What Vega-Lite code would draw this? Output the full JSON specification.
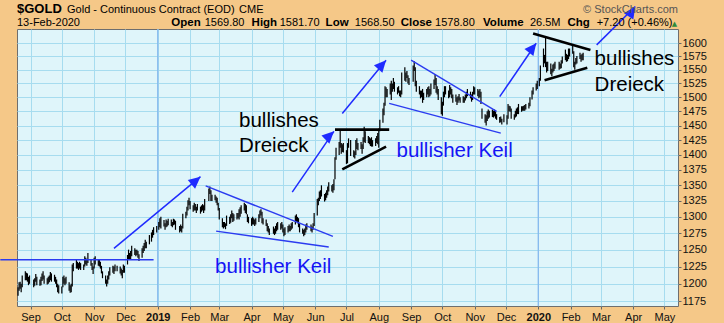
{
"$schema": "https://vega.github.io/schema/vega-lite/v6.json",
"width": 661, "height": 277,
"autosize": {"type": "none"},
"padding": {"left": 17, "top": 29, "right": 46, "bottom": 17},
"background": "#F5C888",
"config": {"view": {"stroke": "#6e6e6e", "strokeWidth": 1, "fill": "#DFF5FA"}, "font": "Liberation Sans"},
"datasets": {
"ohlc": [
{"d":"2018-08-20","h":1195,"l":1183},{"d":"2018-08-21","h":1202,"l":1190},{"d":"2018-08-22","h":1203,"l":1193},{"d":"2018-08-23","h":1200,"l":1188},{"d":"2018-08-24","h":1212,"l":1195},
{"d":"2018-08-27","h":1218,"l":1205},{"d":"2018-08-28","h":1216,"l":1205},{"d":"2018-08-29","h":1215,"l":1203},{"d":"2018-08-30","h":1210,"l":1198},{"d":"2018-08-31","h":1212,"l":1200},
{"d":"2018-09-04","h":1206,"l":1195},{"d":"2018-09-05","h":1208,"l":1197},{"d":"2018-09-06","h":1214,"l":1203},{"d":"2018-09-07","h":1210,"l":1198},
{"d":"2018-09-10","h":1206,"l":1197},{"d":"2018-09-11","h":1210,"l":1198},{"d":"2018-09-12","h":1215,"l":1204},{"d":"2018-09-13","h":1218,"l":1206},{"d":"2018-09-14","h":1212,"l":1200},
{"d":"2018-09-17","h":1208,"l":1199},{"d":"2018-09-18","h":1210,"l":1200},{"d":"2018-09-19","h":1212,"l":1202},{"d":"2018-09-20","h":1217,"l":1205},{"d":"2018-09-21","h":1215,"l":1203},
{"d":"2018-09-24","h":1213,"l":1203},{"d":"2018-09-25","h":1210,"l":1200},{"d":"2018-09-26","h":1206,"l":1195},{"d":"2018-09-27","h":1200,"l":1188},{"d":"2018-09-28","h":1198,"l":1186},
{"d":"2018-10-01","h":1196,"l":1186},{"d":"2018-10-02","h":1210,"l":1195},{"d":"2018-10-03","h":1212,"l":1200},{"d":"2018-10-04","h":1208,"l":1198},{"d":"2018-10-05","h":1210,"l":1200},
{"d":"2018-10-08","h":1202,"l":1190},{"d":"2018-10-09","h":1198,"l":1187},{"d":"2018-10-10","h":1200,"l":1188},{"d":"2018-10-11","h":1228,"l":1196},{"d":"2018-10-12","h":1230,"l":1218},
{"d":"2018-10-15","h":1235,"l":1222},{"d":"2018-10-16","h":1232,"l":1222},{"d":"2018-10-17","h":1230,"l":1220},{"d":"2018-10-18","h":1232,"l":1222},{"d":"2018-10-19","h":1230,"l":1220},
{"d":"2018-10-22","h":1228,"l":1220},{"d":"2018-10-23","h":1240,"l":1225},{"d":"2018-10-24","h":1238,"l":1228},{"d":"2018-10-25","h":1236,"l":1226},{"d":"2018-10-26","h":1245,"l":1230},
{"d":"2018-10-29","h":1236,"l":1226},{"d":"2018-10-30","h":1230,"l":1220},{"d":"2018-10-31","h":1225,"l":1214},{"d":"2018-11-01","h":1238,"l":1222},{"d":"2018-11-02","h":1240,"l":1228},
{"d":"2018-11-05","h":1236,"l":1226},{"d":"2018-11-06","h":1235,"l":1225},{"d":"2018-11-07","h":1232,"l":1222},{"d":"2018-11-08","h":1226,"l":1215},{"d":"2018-11-09","h":1218,"l":1208},
{"d":"2018-11-12","h":1212,"l":1200},{"d":"2018-11-13","h":1206,"l":1196},{"d":"2018-11-14","h":1212,"l":1200},{"d":"2018-11-15","h":1218,"l":1206},{"d":"2018-11-16","h":1224,"l":1212},
{"d":"2018-11-19","h":1226,"l":1216},{"d":"2018-11-20","h":1225,"l":1214},{"d":"2018-11-21","h":1228,"l":1218},{"d":"2018-11-23","h":1226,"l":1218},
{"d":"2018-11-26","h":1225,"l":1215},{"d":"2018-11-27","h":1222,"l":1212},{"d":"2018-11-28","h":1220,"l":1208},{"d":"2018-11-29","h":1228,"l":1216},{"d":"2018-11-30","h":1226,"l":1216},
{"d":"2018-12-03","h":1242,"l":1228},{"d":"2018-12-04","h":1250,"l":1236},{"d":"2018-12-05","h":1245,"l":1236},{"d":"2018-12-06","h":1248,"l":1236},{"d":"2018-12-07","h":1256,"l":1240},
{"d":"2018-12-10","h":1252,"l":1242},{"d":"2018-12-11","h":1250,"l":1240},{"d":"2018-12-12","h":1250,"l":1242},{"d":"2018-12-13","h":1248,"l":1238},{"d":"2018-12-14","h":1243,"l":1233},
{"d":"2018-12-17","h":1252,"l":1238},{"d":"2018-12-18","h":1256,"l":1245},{"d":"2018-12-19","h":1260,"l":1248},{"d":"2018-12-20","h":1265,"l":1252},{"d":"2018-12-21","h":1262,"l":1252},
{"d":"2018-12-24","h":1272,"l":1258},{"d":"2018-12-26","h":1276,"l":1262},{"d":"2018-12-27","h":1280,"l":1268},{"d":"2018-12-28","h":1284,"l":1272},{"d":"2018-12-31","h":1286,"l":1276},
{"d":"2019-01-02","h":1292,"l":1280},{"d":"2019-01-03","h":1298,"l":1284},{"d":"2019-01-04","h":1300,"l":1282},{"d":"2019-01-07","h":1295,"l":1285},{"d":"2019-01-08","h":1290,"l":1280},
{"d":"2019-01-09","h":1296,"l":1284},{"d":"2019-01-10","h":1294,"l":1285},{"d":"2019-01-11","h":1297,"l":1287},{"d":"2019-01-14","h":1296,"l":1286},{"d":"2019-01-15","h":1292,"l":1284},
{"d":"2019-01-16","h":1297,"l":1287},{"d":"2019-01-17","h":1296,"l":1288},{"d":"2019-01-18","h":1294,"l":1280},{"d":"2019-01-22","h":1286,"l":1276},{"d":"2019-01-23","h":1288,"l":1278},
{"d":"2019-01-24","h":1286,"l":1276},{"d":"2019-01-25","h":1305,"l":1282},{"d":"2019-01-28","h":1308,"l":1298},{"d":"2019-01-29","h":1316,"l":1302},{"d":"2019-01-30","h":1326,"l":1310},
{"d":"2019-01-31","h":1330,"l":1318},{"d":"2019-02-01","h":1325,"l":1312},{"d":"2019-02-04","h":1318,"l":1308},{"d":"2019-02-05","h":1322,"l":1310},{"d":"2019-02-06","h":1320,"l":1310},
{"d":"2019-02-07","h":1316,"l":1306},{"d":"2019-02-08","h":1320,"l":1310},{"d":"2019-02-11","h":1316,"l":1305},{"d":"2019-02-12","h":1318,"l":1308},{"d":"2019-02-13","h":1320,"l":1310},
{"d":"2019-02-14","h":1318,"l":1306},{"d":"2019-02-15","h":1328,"l":1310},{"d":"2019-02-19","h":1345,"l":1325},{"d":"2019-02-20","h":1348,"l":1336},{"d":"2019-02-21","h":1342,"l":1325},
{"d":"2019-02-22","h":1335,"l":1325},{"d":"2019-02-25","h":1335,"l":1326},{"d":"2019-02-26","h":1332,"l":1322},{"d":"2019-02-27","h":1330,"l":1318},{"d":"2019-02-28","h":1322,"l":1310},
{"d":"2019-03-01","h":1314,"l":1296},{"d":"2019-03-04","h":1298,"l":1284},{"d":"2019-03-05","h":1292,"l":1282},{"d":"2019-03-06","h":1292,"l":1284},{"d":"2019-03-07","h":1290,"l":1281},
{"d":"2019-03-08","h":1302,"l":1286},{"d":"2019-03-11","h":1300,"l":1289},{"d":"2019-03-12","h":1304,"l":1291},{"d":"2019-03-13","h":1310,"l":1298},{"d":"2019-03-14","h":1306,"l":1292},
{"d":"2019-03-15","h":1304,"l":1294},{"d":"2019-03-18","h":1306,"l":1296},{"d":"2019-03-19","h":1306,"l":1298},{"d":"2019-03-20","h":1312,"l":1296},{"d":"2019-03-21","h":1315,"l":1300},
{"d":"2019-03-22","h":1318,"l":1305},{"d":"2019-03-25","h":1322,"l":1310},{"d":"2019-03-26","h":1320,"l":1306},{"d":"2019-03-27","h":1318,"l":1304},{"d":"2019-03-28","h":1304,"l":1292},
{"d":"2019-03-29","h":1300,"l":1290},{"d":"2019-04-01","h":1298,"l":1286},{"d":"2019-04-02","h":1300,"l":1288},{"d":"2019-04-03","h":1298,"l":1288},{"d":"2019-04-04","h":1296,"l":1286},
{"d":"2019-04-05","h":1298,"l":1288},{"d":"2019-04-08","h":1304,"l":1292},{"d":"2019-04-09","h":1310,"l":1298},{"d":"2019-04-10","h":1312,"l":1302},{"d":"2019-04-11","h":1308,"l":1290},
{"d":"2019-04-12","h":1298,"l":1288},{"d":"2019-04-15","h":1296,"l":1286},{"d":"2019-04-16","h":1290,"l":1278},{"d":"2019-04-17","h":1286,"l":1276},{"d":"2019-04-18","h":1282,"l":1272},
{"d":"2019-04-22","h":1285,"l":1274},{"d":"2019-04-23","h":1282,"l":1272},{"d":"2019-04-24","h":1286,"l":1274},{"d":"2019-04-25","h":1290,"l":1278},{"d":"2019-04-26","h":1292,"l":1280},
{"d":"2019-04-29","h":1290,"l":1280},{"d":"2019-04-30","h":1292,"l":1282},{"d":"2019-05-01","h":1288,"l":1276},{"d":"2019-05-02","h":1282,"l":1270},{"d":"2019-05-03","h":1284,"l":1272},
{"d":"2019-05-06","h":1286,"l":1276},{"d":"2019-05-07","h":1288,"l":1278},{"d":"2019-05-08","h":1286,"l":1278},{"d":"2019-05-09","h":1290,"l":1280},{"d":"2019-05-10","h":1292,"l":1282},
{"d":"2019-05-13","h":1302,"l":1288},{"d":"2019-05-14","h":1304,"l":1292},{"d":"2019-05-15","h":1300,"l":1290},{"d":"2019-05-16","h":1298,"l":1284},{"d":"2019-05-17","h":1290,"l":1276},
{"d":"2019-05-20","h":1282,"l":1274},{"d":"2019-05-21","h":1280,"l":1270},{"d":"2019-05-22","h":1282,"l":1272},{"d":"2019-05-23","h":1288,"l":1276},{"d":"2019-05-24","h":1290,"l":1280},
{"d":"2019-05-28","h":1288,"l":1278},{"d":"2019-05-29","h":1285,"l":1276},{"d":"2019-05-30","h":1290,"l":1280},{"d":"2019-05-31","h":1306,"l":1286},
{"d":"2019-06-03","h":1328,"l":1302},{"d":"2019-06-04","h":1330,"l":1318},{"d":"2019-06-05","h":1340,"l":1325},{"d":"2019-06-06","h":1342,"l":1328},{"d":"2019-06-07","h":1350,"l":1332},
{"d":"2019-06-10","h":1336,"l":1324},{"d":"2019-06-11","h":1338,"l":1326},{"d":"2019-06-12","h":1342,"l":1330},{"d":"2019-06-13","h":1348,"l":1334},{"d":"2019-06-14","h":1355,"l":1340},
{"d":"2019-06-17","h":1350,"l":1340},{"d":"2019-06-18","h":1352,"l":1338},{"d":"2019-06-19","h":1360,"l":1342},{"d":"2019-06-20","h":1396,"l":1360},{"d":"2019-06-21","h":1412,"l":1392},
{"d":"2019-06-24","h":1422,"l":1400},{"d":"2019-06-25","h":1442,"l":1412},{"d":"2019-06-26","h":1420,"l":1402},{"d":"2019-06-27","h":1418,"l":1405},{"d":"2019-06-28","h":1420,"l":1404},
{"d":"2019-07-01","h":1408,"l":1385},{"d":"2019-07-02","h":1420,"l":1386},{"d":"2019-07-03","h":1428,"l":1412},{"d":"2019-07-05","h":1425,"l":1398},
{"d":"2019-07-08","h":1408,"l":1396},{"d":"2019-07-09","h":1406,"l":1394},{"d":"2019-07-10","h":1425,"l":1400},{"d":"2019-07-11","h":1428,"l":1410},{"d":"2019-07-12","h":1420,"l":1408},
{"d":"2019-07-15","h":1422,"l":1410},{"d":"2019-07-16","h":1418,"l":1402},{"d":"2019-07-17","h":1430,"l":1410},{"d":"2019-07-18","h":1448,"l":1422},{"d":"2019-07-19","h":1440,"l":1420},
{"d":"2019-07-22","h":1432,"l":1420},{"d":"2019-07-23","h":1430,"l":1418},{"d":"2019-07-24","h":1428,"l":1415},{"d":"2019-07-25","h":1430,"l":1414},{"d":"2019-07-26","h":1425,"l":1414},
{"d":"2019-07-29","h":1428,"l":1415},{"d":"2019-07-30","h":1432,"l":1420},{"d":"2019-07-31","h":1437,"l":1418},{"d":"2019-08-01","h":1445,"l":1412},{"d":"2019-08-02","h":1460,"l":1440},
{"d":"2019-08-05","h":1480,"l":1455},{"d":"2019-08-06","h":1490,"l":1468},{"d":"2019-08-07","h":1520,"l":1485},{"d":"2019-08-08","h":1518,"l":1500},{"d":"2019-08-09","h":1515,"l":1500},
{"d":"2019-08-12","h":1525,"l":1505},{"d":"2019-08-13","h":1530,"l":1495},{"d":"2019-08-14","h":1525,"l":1510},{"d":"2019-08-15","h":1535,"l":1515},{"d":"2019-08-16","h":1528,"l":1510},
{"d":"2019-08-19","h":1518,"l":1505},{"d":"2019-08-20","h":1520,"l":1508},{"d":"2019-08-21","h":1512,"l":1502},{"d":"2019-08-22","h":1512,"l":1500},{"d":"2019-08-23","h":1545,"l":1505},
{"d":"2019-08-26","h":1555,"l":1530},{"d":"2019-08-27","h":1545,"l":1528},{"d":"2019-08-28","h":1548,"l":1535},{"d":"2019-08-29","h":1540,"l":1525},{"d":"2019-08-30","h":1535,"l":1522},
{"d":"2019-09-03","h":1558,"l":1528},{"d":"2019-09-04","h":1566,"l":1548},{"d":"2019-09-05","h":1555,"l":1520},{"d":"2019-09-06","h":1530,"l":1510},
{"d":"2019-09-09","h":1520,"l":1505},{"d":"2019-09-10","h":1512,"l":1498},{"d":"2019-09-11","h":1512,"l":1500},{"d":"2019-09-12","h":1515,"l":1490},{"d":"2019-09-13","h":1508,"l":1495},
{"d":"2019-09-16","h":1515,"l":1500},{"d":"2019-09-17","h":1518,"l":1505},{"d":"2019-09-18","h":1520,"l":1500},{"d":"2019-09-19","h":1515,"l":1502},{"d":"2019-09-20","h":1525,"l":1505},
{"d":"2019-09-23","h":1532,"l":1515},{"d":"2019-09-24","h":1542,"l":1522},{"d":"2019-09-25","h":1535,"l":1508},{"d":"2019-09-26","h":1520,"l":1505},{"d":"2019-09-27","h":1515,"l":1495},
{"d":"2019-09-30","h":1500,"l":1470},{"d":"2019-10-01","h":1492,"l":1467},{"d":"2019-10-02","h":1510,"l":1485},{"d":"2019-10-03","h":1520,"l":1500},{"d":"2019-10-04","h":1520,"l":1505},
{"d":"2019-10-07","h":1512,"l":1498},{"d":"2019-10-08","h":1522,"l":1500},{"d":"2019-10-09","h":1518,"l":1505},{"d":"2019-10-10","h":1515,"l":1498},{"d":"2019-10-11","h":1505,"l":1490},
{"d":"2019-10-14","h":1505,"l":1492},{"d":"2019-10-15","h":1500,"l":1486},{"d":"2019-10-16","h":1502,"l":1490},{"d":"2019-10-17","h":1506,"l":1494},{"d":"2019-10-18","h":1500,"l":1490},
{"d":"2019-10-21","h":1502,"l":1490},{"d":"2019-10-22","h":1500,"l":1490},{"d":"2019-10-23","h":1505,"l":1494},{"d":"2019-10-24","h":1510,"l":1498},{"d":"2019-10-25","h":1515,"l":1502},
{"d":"2019-10-28","h":1510,"l":1498},{"d":"2019-10-29","h":1505,"l":1492},{"d":"2019-10-30","h":1510,"l":1495},{"d":"2019-10-31","h":1520,"l":1505},
{"d":"2019-11-01","h":1518,"l":1505},{"d":"2019-11-04","h":1515,"l":1502},{"d":"2019-11-05","h":1512,"l":1498},{"d":"2019-11-06","h":1515,"l":1500},{"d":"2019-11-07","h":1510,"l":1488},
{"d":"2019-11-08","h":1480,"l":1462},{"d":"2019-11-11","h":1470,"l":1455},{"d":"2019-11-12","h":1468,"l":1450},{"d":"2019-11-13","h":1475,"l":1458},{"d":"2019-11-14","h":1478,"l":1462},
{"d":"2019-11-15","h":1476,"l":1464},{"d":"2019-11-18","h":1478,"l":1465},{"d":"2019-11-19","h":1476,"l":1464},{"d":"2019-11-20","h":1478,"l":1466},{"d":"2019-11-21","h":1475,"l":1462},
{"d":"2019-11-22","h":1470,"l":1460},{"d":"2019-11-25","h":1465,"l":1455},{"d":"2019-11-26","h":1466,"l":1456},{"d":"2019-11-27","h":1462,"l":1452},{"d":"2019-11-29","h":1470,"l":1456},
{"d":"2019-12-02","h":1468,"l":1452},{"d":"2019-12-03","h":1488,"l":1462},{"d":"2019-12-04","h":1485,"l":1475},{"d":"2019-12-05","h":1484,"l":1474},{"d":"2019-12-06","h":1480,"l":1462},
{"d":"2019-12-09","h":1470,"l":1460},{"d":"2019-12-10","h":1476,"l":1464},{"d":"2019-12-11","h":1480,"l":1466},{"d":"2019-12-12","h":1482,"l":1470},{"d":"2019-12-13","h":1488,"l":1470},
{"d":"2019-12-16","h":1484,"l":1474},{"d":"2019-12-17","h":1484,"l":1476},{"d":"2019-12-18","h":1485,"l":1476},{"d":"2019-12-19","h":1486,"l":1476},{"d":"2019-12-20","h":1488,"l":1478},
{"d":"2019-12-23","h":1490,"l":1480},{"d":"2019-12-24","h":1500,"l":1484},{"d":"2019-12-26","h":1512,"l":1496},{"d":"2019-12-27","h":1518,"l":1505},{"d":"2019-12-30","h":1525,"l":1512},
{"d":"2019-12-31","h":1530,"l":1515},{"d":"2020-01-02","h":1535,"l":1520},{"d":"2020-01-03","h":1558,"l":1530},{"d":"2020-01-06","h":1590,"l":1555},{"d":"2020-01-07","h":1578,"l":1562},
{"d":"2020-01-08","h":1612,"l":1555},{"d":"2020-01-09","h":1565,"l":1545},{"d":"2020-01-10","h":1565,"l":1548},{"d":"2020-01-13","h":1562,"l":1542},{"d":"2020-01-14","h":1552,"l":1538},
{"d":"2020-01-15","h":1560,"l":1545},{"d":"2020-01-16","h":1562,"l":1548},{"d":"2020-01-17","h":1565,"l":1552},{"d":"2020-01-21","h":1565,"l":1550},{"d":"2020-01-22","h":1562,"l":1552},
{"d":"2020-01-23","h":1568,"l":1553},{"d":"2020-01-24","h":1575,"l":1562},{"d":"2020-01-27","h":1588,"l":1568},{"d":"2020-01-28","h":1580,"l":1565},{"d":"2020-01-29","h":1578,"l":1566},
{"d":"2020-01-30","h":1590,"l":1570},{"d":"2020-01-31","h":1590,"l":1575},{"d":"2020-02-03","h":1598,"l":1580},{"d":"2020-02-04","h":1585,"l":1555},{"d":"2020-02-05","h":1565,"l":1550},
{"d":"2020-02-06","h":1572,"l":1560},{"d":"2020-02-07","h":1576,"l":1562},{"d":"2020-02-10","h":1582,"l":1570},{"d":"2020-02-11","h":1578,"l":1565},{"d":"2020-02-12","h":1580,"l":1568},
{"d":"2020-02-13","h":1582,"l":1568}
],
"years": [{"d":"2019-01-01"},{"d":"2020-01-01"}],
"lines": [
{"g":"blue","d1":"2018-08-03","p1":1235,"d2":"2018-12-28","p2":1235},
{"g":"blue","d1":"2019-02-16","p1":1349,"d2":"2019-06-18","p2":1270},
{"g":"blue","d1":"2019-02-26","p1":1278,"d2":"2019-06-14","p2":1254},
{"g":"blue","d1":"2019-09-01","p1":1568,"d2":"2019-11-22","p2":1475},
{"g":"blue","d1":"2019-08-11","p1":1489,"d2":"2019-11-26","p2":1437},
{"g":"black","d1":"2019-06-20","p1":1443,"d2":"2019-08-11","p2":1443},
{"g":"black","d1":"2019-06-27","p1":1376,"d2":"2019-08-08","p2":1414},
{"g":"black","d1":"2019-12-27","p1":1619,"d2":"2020-02-20","p2":1587},
{"g":"black","d1":"2020-01-07","p1":1531,"d2":"2020-02-17","p2":1554}
],
"arrows": [
{"id":"a1","d1":"2018-11-20","p1":1252,"d2":"2019-02-11","p2":1364},
{"id":"a2","d1":"2019-05-10","p1":1339,"d2":"2019-06-19","p2":1440},
{"id":"a3","d1":"2019-06-27","p1":1471,"d2":"2019-08-08","p2":1568},
{"id":"a4","d1":"2019-11-25","p1":1501,"d2":"2019-12-30","p2":1600},
{"id":"a5","d1":"2020-02-26","p1":1597,"d2":"2020-04-03","p2":1672}
],
"notes": [
{"g":"black","t":"bullishes","d":"2019-03-20","p":1447.5},
{"g":"black","t":"Dreieck","d":"2019-03-20","p":1405},
{"g":"blue","t":"bullisher Keil","d":"2019-02-25","p":1216},
{"g":"blue","t":"bullisher Keil","d":"2019-08-18","p":1397},
{"g":"black","t":"bullishes","d":"2020-02-24","p":1559},
{"g":"black","t":"Dreieck","d":"2020-02-24","p":1512}
],
"hdr": [
{"k":"big","t":"$GOLD","d":"2018-08-19","p":1660},
{"k":"n","t":"Gold - Continuous Contract (EOD)","d":"2018-10-06","p":1660},
{"k":"n","t":"CME","d":"2019-03-20","p":1660},
{"k":"r","t":"© StockCharts.com","d":"2020-05-14","p":1660},
{"k":"n","t":"13-Feb-2020","d":"2018-08-19","p":1632.5},
{"k":"b","t":"Open","d":"2019-01-14","p":1632.5},
{"k":"n","t":"1569.80","d":"2019-02-15","p":1632.5},
{"k":"b","t":"High","d":"2019-04-01","p":1632.5},
{"k":"n","t":"1581.70","d":"2019-04-28","p":1632.5},
{"k":"b","t":"Low","d":"2019-06-11","p":1632.5},
{"k":"n","t":"1568.50","d":"2019-07-09","p":1632.5},
{"k":"b","t":"Close","d":"2019-08-22","p":1632.5},
{"k":"n","t":"1578.80","d":"2019-09-24","p":1632.5},
{"k":"b","t":"Volume","d":"2019-11-09","p":1632.5},
{"k":"n","t":"26.5M","d":"2019-12-24","p":1632.5},
{"k":"b","t":"Chg","d":"2020-01-29","p":1632.5},
{"k":"n","t":"+7.20 (+0.46%)","d":"2020-02-26","p":1632.5},
{"k":"g","t":"▲","d":"2020-05-08","p":1632.5}
]
},
"layer": [
{
"data": {"name": "years"},
"mark": {"type": "rule", "color": "#86B9EE", "strokeWidth": 1.3},
"encoding": {
"x": {"field": "d", "type": "temporal", "scale": {"type": "utc", "domain": [{"year": 2018, "month": 8, "date": 19, "utc": true}, {"year": 2020, "month": 5, "date": 14, "utc": true}]},
"axis": {"title": null, "orient": "bottom", "tickCount": {"interval": "month", "step": 1}, "grid": true, "gridColor": "#A6DCEF", "domain": false, "tickSize": 3, "tickColor": "#666", "labelFont": "Liberation Sans", "labelFontSize": 11, "labelColor": "#111", "labelPadding": 2, "labelFlush": false, "labelOverlap": false,
"labelExpr": "utcmonth(datum.value) == 0 ? utcFormat(datum.value, '%Y') : utcFormat(datum.value, '%b')",
"labelFontWeight": {"condition": {"test": "utcmonth(datum.value) == 0", "value": "bold"}, "value": "normal"}}}
}
},
{
"data": {"name": "ohlc"},
"mark": {"type": "rule", "color": "#000000", "strokeWidth": 1.2},
"encoding": {
"x": {"field": "d", "type": "temporal"},
"y": {"field": "l", "type": "quantitative", "scale": {"type": "log", "domain": [1168.5, 1627.6], "nice": false, "zero": false},
"axis": {"title": null, "orient": "right", "values": [1175,1200,1225,1250,1275,1300,1325,1350,1375,1400,1425,1450,1475,1500,1525,1550,1575,1600], "grid": true, "gridColor": "#A6DCEF", "domain": false, "tickSize": 3, "tickColor": "#666", "labelFont": "Liberation Sans", "labelFontSize": 11, "labelColor": "#111", "labelPadding": 1, "format": "d"}},
"y2": {"field": "h"}
}
},
{
"data": {"name": "lines"},
"transform": [{"filter": "datum.g == 'blue'"}],
"mark": {"type": "rule", "color": "#2B3BF0", "strokeWidth": 1.4},
"encoding": {
"x": {"field": "d1", "type": "temporal"},
"x2": {"field": "d2"},
"y": {"field": "p1", "type": "quantitative"},
"y2": {"field": "p2"}
}
},
{
"data": {"name": "lines"},
"transform": [{"filter": "datum.g == 'black'"}],
"mark": {"type": "rule", "color": "#000000", "strokeWidth": 2.6},
"encoding": {
"x": {"field": "d1", "type": "temporal"},
"x2": {"field": "d2"},
"y": {"field": "p1", "type": "quantitative"},
"y2": {"field": "p2"}
}
},
{
"data": {"name": "arrows"},
"mark": {"type": "rule", "color": "#1F2BFF", "strokeWidth": 1.5},
"encoding": {
"x": {"field": "d1", "type": "temporal"},
"x2": {"field": "d2"},
"y": {"field": "p1", "type": "quantitative"},
"y2": {"field": "p2"}
}
},
{
"data": {"name": "arrows"},
"mark": {"type": "point", "filled": true, "color": "#1F2BFF", "opacity": 1, "shape": "M0,0L-0.48,1L0.48,1Z", "size": 560},
"encoding": {
"x": {"field": "d2", "type": "temporal"},
"y": {"field": "p2", "type": "quantitative"},
"angle": {"field": "id", "type": "nominal", "scale": {"domain": ["a1","a2","a3","a4","a5"], "range": [50, 34, 39, 34, 45]}, "legend": null}
}
},
{
"data": {"name": "notes"},
"mark": {"type": "text", "align": "left", "baseline": "alphabetic", "font": "Liberation Sans", "fontSize": 20.5},
"encoding": {
"x": {"field": "d", "type": "temporal"},
"y": {"field": "p", "type": "quantitative"},
"text": {"field": "t"},
"color": {"field": "g", "type": "nominal", "scale": {"domain": ["black", "blue"], "range": ["#000000", "#1414F5"]}, "legend": null}
}
},
{
"data": {"name": "hdr"},
"transform": [{"filter": "datum.k == 'big'"}],
"mark": {"type": "text", "align": "left", "baseline": "alphabetic", "font": "Liberation Sans", "fontSize": 13, "fontWeight": "bold", "color": "#000"},
"encoding": {"x": {"field": "d", "type": "temporal"}, "y": {"field": "p", "type": "quantitative"}, "text": {"field": "t"}}
},
{
"data": {"name": "hdr"},
"transform": [{"filter": "datum.k == 'n'"}],
"mark": {"type": "text", "align": "left", "baseline": "alphabetic", "font": "Liberation Sans", "fontSize": 11, "color": "#000"},
"encoding": {"x": {"field": "d", "type": "temporal"}, "y": {"field": "p", "type": "quantitative"}, "text": {"field": "t"}}
},
{
"data": {"name": "hdr"},
"transform": [{"filter": "datum.k == 'b'"}],
"mark": {"type": "text", "align": "left", "baseline": "alphabetic", "font": "Liberation Sans", "fontSize": 11.5, "fontWeight": "bold", "color": "#000"},
"encoding": {"x": {"field": "d", "type": "temporal"}, "y": {"field": "p", "type": "quantitative"}, "text": {"field": "t"}}
},
{
"data": {"name": "hdr"},
"transform": [{"filter": "datum.k == 'r'"}],
"mark": {"type": "text", "align": "right", "baseline": "alphabetic", "font": "Liberation Sans", "fontSize": 11, "color": "#555"},
"encoding": {"x": {"field": "d", "type": "temporal"}, "y": {"field": "p", "type": "quantitative"}, "text": {"field": "t"}}
},
{
"data": {"name": "hdr"},
"transform": [{"filter": "datum.k == 'g'"}],
"mark": {"type": "text", "align": "left", "baseline": "alphabetic", "font": "DejaVu Sans", "fontSize": 7, "color": "#2E8B3A"},
"encoding": {"x": {"field": "d", "type": "temporal"}, "y": {"field": "p", "type": "quantitative"}, "text": {"field": "t"}}
}
]
}
